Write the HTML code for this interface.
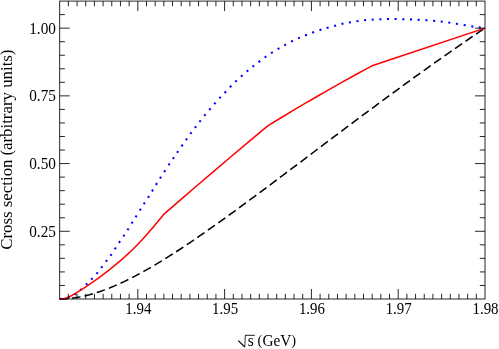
<!DOCTYPE html>
<html><head><meta charset="utf-8"><title>plot</title>
<style>
html,body{margin:0;padding:0;background:#fff;}
body{width:499px;height:349px;overflow:hidden;}
svg{display:block;will-change:transform;}
text{font-family:"Liberation Serif",serif;fill:#000;}
</style></head><body>
<svg width="499" height="349" viewBox="0 0 499 349">
<rect x="0" y="0" width="499" height="349" fill="#fff"/>
<path d="M59.50,299.00 L64.51,298.86 L69.51,298.47 L74.52,297.85 L79.52,297.00 L84.53,295.95 L89.54,294.69 L94.54,293.26 L99.55,291.65 L104.55,289.87 L109.56,287.95 L114.56,285.88 L119.57,283.67 L124.58,281.34 L129.58,278.90 L134.59,276.34 L139.59,273.68 L144.60,270.93 L149.61,268.08 L154.61,265.16 L159.62,262.16 L164.62,259.08 L169.63,255.94 L174.64,252.74 L179.64,249.49 L184.65,246.18 L189.65,242.82 L194.66,239.42 L199.66,235.98 L204.67,232.50 L209.68,228.99 L214.68,225.45 L219.69,221.88 L224.69,218.28 L229.70,214.66 L234.71,211.02 L239.71,207.36 L244.72,203.68 L249.72,199.99 L254.73,196.29 L259.74,192.57 L264.74,188.84 L269.75,185.10 L274.75,181.36 L279.76,177.61 L284.76,173.85 L289.77,170.09 L294.78,166.32 L299.78,162.56 L304.79,158.79 L309.79,155.02 L314.80,151.25 L319.81,147.48 L324.81,143.71 L329.82,139.94 L334.82,136.18 L339.83,132.42 L344.84,128.67 L349.84,124.92 L354.85,121.18 L359.85,117.44 L364.86,113.71 L369.86,109.99 L374.87,106.28 L379.88,102.57 L384.88,98.88 L389.89,95.20 L394.89,91.52 L399.90,87.86 L404.91,84.21 L409.91,80.58 L414.92,76.96 L419.92,73.35 L424.93,69.76 L429.94,66.18 L434.94,62.63 L439.95,59.08 L444.95,55.56 L449.96,52.06 L454.96,48.57 L459.97,45.11 L464.98,41.66 L469.98,38.24 L474.99,34.84 L479.99,31.46 L485.00,28.10" fill="none" stroke="#000" stroke-width="1.55" stroke-dasharray="8.6 4.18" stroke-dashoffset="0.31"/>
<g fill="#00f">
<rect x="60.18" y="297.88" width="2.05" height="2.05" transform="rotate(-10.9 61.20 298.90)"/>
<rect x="67.47" y="296.48" width="2.05" height="2.05" transform="rotate(-18.4 68.50 297.50)"/>
<rect x="74.27" y="293.18" width="2.05" height="2.05" transform="rotate(-32.5 75.30 294.20)"/>
<rect x="79.88" y="288.58" width="2.05" height="2.05" transform="rotate(-41.8 80.90 289.60)"/>
<rect x="85.57" y="283.08" width="2.05" height="2.05" transform="rotate(-44.2 86.60 284.10)"/>
<rect x="90.88" y="277.88" width="2.05" height="2.05" transform="rotate(-46.3 91.90 278.90)"/>
<rect x="96.07" y="272.08" width="2.05" height="2.05" transform="rotate(-50.0 97.10 273.10)"/>
<rect x="100.77" y="266.08" width="2.05" height="2.05" transform="rotate(-52.4 101.80 267.10)"/>
<rect x="105.47" y="259.88" width="2.05" height="2.05" transform="rotate(-52.7 106.50 260.90)"/>
<rect x="110.07" y="253.88" width="2.05" height="2.05" transform="rotate(-54.9 111.10 254.90)"/>
<rect x="114.27" y="247.38" width="2.05" height="2.05" transform="rotate(-56.9 115.30 248.40)"/>
<rect x="118.47" y="240.97" width="2.05" height="2.05" transform="rotate(-56.1 119.50 242.00)"/>
<rect x="122.88" y="234.57" width="2.05" height="2.05" transform="rotate(-56.2 123.90 235.60)"/>
<rect x="126.97" y="228.28" width="2.05" height="2.05" transform="rotate(-57.6 128.00 229.30)"/>
<rect x="131.07" y="221.67" width="2.05" height="2.05" transform="rotate(-58.1 132.10 222.70)"/>
<rect x="135.07" y="215.28" width="2.05" height="2.05" transform="rotate(-57.8 136.10 216.30)"/>
<rect x="139.28" y="208.67" width="2.05" height="2.05" transform="rotate(-57.8 140.30 209.70)"/>
<rect x="143.28" y="202.28" width="2.05" height="2.05" transform="rotate(-57.4 144.30 203.30)"/>
<rect x="147.47" y="195.88" width="2.05" height="2.05" transform="rotate(-57.4 148.50 196.90)"/>
<rect x="151.47" y="189.47" width="2.05" height="2.05" transform="rotate(-58.2 152.50 190.50)"/>
<rect x="155.47" y="182.97" width="2.05" height="2.05" transform="rotate(-58.2 156.50 184.00)"/>
<rect x="159.47" y="176.57" width="2.05" height="2.05" transform="rotate(-57.4 160.50 177.60)"/>
<rect x="163.67" y="170.17" width="2.05" height="2.05" transform="rotate(-56.9 164.70 171.20)"/>
<rect x="168.07" y="163.38" width="2.05" height="2.05" transform="rotate(-56.4 169.10 164.40)"/>
<rect x="172.38" y="157.07" width="2.05" height="2.05" transform="rotate(-55.8 173.40 158.10)"/>
<rect x="176.57" y="150.88" width="2.05" height="2.05" transform="rotate(-55.4 177.60 151.90)"/>
<rect x="181.07" y="144.47" width="2.05" height="2.05" transform="rotate(-54.8 182.10 145.50)"/>
<rect x="185.47" y="138.28" width="2.05" height="2.05" transform="rotate(-54.6 186.50 139.30)"/>
<rect x="189.88" y="132.07" width="2.05" height="2.05" transform="rotate(-53.6 190.90 133.10)"/>
<rect x="194.47" y="126.07" width="2.05" height="2.05" transform="rotate(-52.5 195.50 127.10)"/>
<rect x="199.07" y="120.07" width="2.05" height="2.05" transform="rotate(-51.9 200.10 121.10)"/>
<rect x="203.88" y="114.07" width="2.05" height="2.05" transform="rotate(-50.5 204.90 115.10)"/>
<rect x="208.88" y="108.17" width="2.05" height="2.05" transform="rotate(-49.5 209.90 109.20)"/>
<rect x="213.88" y="102.38" width="2.05" height="2.05" transform="rotate(-48.7 214.90 103.40)"/>
<rect x="219.07" y="96.57" width="2.05" height="2.05" transform="rotate(-47.1 220.10 97.60)"/>
<rect x="224.28" y="91.17" width="2.05" height="2.05" transform="rotate(-46.6 225.30 92.20)"/>
<rect x="229.57" y="85.47" width="2.05" height="2.05" transform="rotate(-46.1 230.60 86.50)"/>
<rect x="234.97" y="80.07" width="2.05" height="2.05" transform="rotate(-43.7 236.00 81.10)"/>
<rect x="240.67" y="74.88" width="2.05" height="2.05" transform="rotate(-41.6 241.70 75.90)"/>
<rect x="246.47" y="69.88" width="2.05" height="2.05" transform="rotate(-40.2 247.50 70.90)"/>
<rect x="252.28" y="65.07" width="2.05" height="2.05" transform="rotate(-38.5 253.30 66.10)"/>
<rect x="258.28" y="60.48" width="2.05" height="2.05" transform="rotate(-37.0 259.30 61.50)"/>
<rect x="264.48" y="55.88" width="2.05" height="2.05" transform="rotate(-34.9 265.50 56.90)"/>
<rect x="270.88" y="51.68" width="2.05" height="2.05" transform="rotate(-32.2 271.90 52.70)"/>
<rect x="277.48" y="47.68" width="2.05" height="2.05" transform="rotate(-30.9 278.50 48.70)"/>
<rect x="284.08" y="43.77" width="2.05" height="2.05" transform="rotate(-29.1 285.10 44.80)"/>
<rect x="290.98" y="40.18" width="2.05" height="2.05" transform="rotate(-26.1 292.00 41.20)"/>
<rect x="297.98" y="36.98" width="2.05" height="2.05" transform="rotate(-23.5 299.00 38.00)"/>
<rect x="304.98" y="34.08" width="2.05" height="2.05" transform="rotate(-21.7 306.00 35.10)"/>
<rect x="312.08" y="31.38" width="2.05" height="2.05" transform="rotate(-19.9 313.10 32.40)"/>
<rect x="319.38" y="28.88" width="2.05" height="2.05" transform="rotate(-18.0 320.40 29.90)"/>
<rect x="326.58" y="26.68" width="2.05" height="2.05" transform="rotate(-15.9 327.60 27.70)"/>
<rect x="334.08" y="24.68" width="2.05" height="2.05" transform="rotate(-14.7 335.10 25.70)"/>
<rect x="341.48" y="22.78" width="2.05" height="2.05" transform="rotate(-12.6 342.50 23.80)"/>
<rect x="348.88" y="21.38" width="2.05" height="2.05" transform="rotate(-9.8 349.90 22.40)"/>
<rect x="356.48" y="20.18" width="2.05" height="2.05" transform="rotate(-8.2 357.50 21.20)"/>
<rect x="364.08" y="19.18" width="2.05" height="2.05" transform="rotate(-6.0 365.10 20.20)"/>
<rect x="371.68" y="18.58" width="2.05" height="2.05" transform="rotate(-3.7 372.70 19.60)"/>
<rect x="379.38" y="18.18" width="2.05" height="2.05" transform="rotate(-2.2 380.40 19.20)"/>
<rect x="386.98" y="17.98" width="2.05" height="2.05" transform="rotate(-0.8 388.00 19.00)"/>
<rect x="394.58" y="17.98" width="2.05" height="2.05" transform="rotate(0.7 395.60 19.00)"/>
<rect x="402.28" y="18.18" width="2.05" height="2.05" transform="rotate(1.5 403.30 19.20)"/>
<rect x="409.98" y="18.38" width="2.05" height="2.05" transform="rotate(2.2 411.00 19.40)"/>
<rect x="417.58" y="18.78" width="2.05" height="2.05" transform="rotate(3.0 418.60 19.80)"/>
<rect x="425.48" y="19.18" width="2.05" height="2.05" transform="rotate(3.7 426.50 20.20)"/>
<rect x="433.08" y="19.78" width="2.05" height="2.05" transform="rotate(5.3 434.10 20.80)"/>
<rect x="440.68" y="20.58" width="2.05" height="2.05" transform="rotate(6.8 441.70 21.60)"/>
<rect x="448.28" y="21.58" width="2.05" height="2.05" transform="rotate(8.2 449.30 22.60)"/>
<rect x="455.88" y="22.78" width="2.05" height="2.05" transform="rotate(9.2 456.90 23.80)"/>
<rect x="463.68" y="24.08" width="2.05" height="2.05" transform="rotate(9.9 464.70 25.10)"/>
<rect x="471.28" y="25.48" width="2.05" height="2.05" transform="rotate(9.0 472.30 26.50)"/>
<rect x="478.78" y="26.48" width="2.05" height="2.05" transform="rotate(7.6 479.80 27.50)"/>
</g>
<path d="M59.50,299.00 L62.00,298.85 L64.50,298.45 L67.00,297.75 L69.50,296.75 L72.00,295.45 L74.50,293.95 L77.52,292.15 L81.12,289.93 L84.72,287.64 L88.33,285.24 L91.93,282.74 L95.53,280.18 L99.14,277.55 L102.74,274.86 L106.34,272.11 L109.95,269.30 L113.55,266.41 L117.16,263.44 L120.76,260.37 L124.36,257.20 L127.97,253.91 L131.57,250.50 L135.17,246.95 L138.78,243.26 L142.38,239.42 L145.98,235.45 L149.59,231.36 L153.19,227.15 L156.79,222.85 L160.40,218.48 L164.00,214.10 L181.00,199.40 L198.00,184.76 L214.00,171.10 L230.00,157.50 L251.50,139.40 L268.10,125.60 L281.00,117.75 L294.00,109.95 L305.50,103.20 L317.00,96.50 L328.50,89.90 L340.00,83.45 L356.00,74.50 L364.00,70.20 L372.10,65.80 L390.00,59.70 L485.00,28.10" stroke="#f00" stroke-width="1.5" fill="none" stroke-linejoin="round"/>
<g stroke="#000" stroke-width="0.85" fill="none">
<rect x="59.7" y="1.08" width="425.3" height="297.92"/>
<path d="M68.38,299.0 v-5.2 M68.38,1.08 v5.2 M77.06,299.0 v-5.2 M77.06,1.08 v5.2 M85.74,299.0 v-5.2 M85.74,1.08 v5.2 M94.42,299.0 v-5.2 M94.42,1.08 v5.2 M103.10,299.0 v-5.2 M103.10,1.08 v5.2 M111.78,299.0 v-5.2 M111.78,1.08 v5.2 M120.46,299.0 v-5.2 M120.46,1.08 v5.2 M129.14,299.0 v-5.2 M129.14,1.08 v5.2 M137.82,299.0 v-10.0 M137.82,1.08 v10.0 M146.50,299.0 v-5.2 M146.50,1.08 v5.2 M155.18,299.0 v-5.2 M155.18,1.08 v5.2 M163.86,299.0 v-5.2 M163.86,1.08 v5.2 M172.53,299.0 v-5.2 M172.53,1.08 v5.2 M181.21,299.0 v-5.2 M181.21,1.08 v5.2 M189.89,299.0 v-5.2 M189.89,1.08 v5.2 M198.57,299.0 v-5.2 M198.57,1.08 v5.2 M207.25,299.0 v-5.2 M207.25,1.08 v5.2 M215.93,299.0 v-5.2 M215.93,1.08 v5.2 M224.61,299.0 v-10.0 M224.61,1.08 v10.0 M233.29,299.0 v-5.2 M233.29,1.08 v5.2 M241.97,299.0 v-5.2 M241.97,1.08 v5.2 M250.65,299.0 v-5.2 M250.65,1.08 v5.2 M259.33,299.0 v-5.2 M259.33,1.08 v5.2 M268.01,299.0 v-5.2 M268.01,1.08 v5.2 M276.69,299.0 v-5.2 M276.69,1.08 v5.2 M285.37,299.0 v-5.2 M285.37,1.08 v5.2 M294.05,299.0 v-5.2 M294.05,1.08 v5.2 M302.73,299.0 v-5.2 M302.73,1.08 v5.2 M311.41,299.0 v-10.0 M311.41,1.08 v10.0 M320.09,299.0 v-5.2 M320.09,1.08 v5.2 M328.77,299.0 v-5.2 M328.77,1.08 v5.2 M337.45,299.0 v-5.2 M337.45,1.08 v5.2 M346.13,299.0 v-5.2 M346.13,1.08 v5.2 M354.81,299.0 v-5.2 M354.81,1.08 v5.2 M363.49,299.0 v-5.2 M363.49,1.08 v5.2 M372.17,299.0 v-5.2 M372.17,1.08 v5.2 M380.84,299.0 v-5.2 M380.84,1.08 v5.2 M389.52,299.0 v-5.2 M389.52,1.08 v5.2 M398.20,299.0 v-10.0 M398.20,1.08 v10.0 M406.88,299.0 v-5.2 M406.88,1.08 v5.2 M415.56,299.0 v-5.2 M415.56,1.08 v5.2 M424.24,299.0 v-5.2 M424.24,1.08 v5.2 M432.92,299.0 v-5.2 M432.92,1.08 v5.2 M441.60,299.0 v-5.2 M441.60,1.08 v5.2 M450.28,299.0 v-5.2 M450.28,1.08 v5.2 M458.96,299.0 v-5.2 M458.96,1.08 v5.2 M467.64,299.0 v-5.2 M467.64,1.08 v5.2 M476.32,299.0 v-5.2 M476.32,1.08 v5.2 M59.7,285.46 h5.2 M485.0,285.46 h-5.2 M59.7,271.92 h5.2 M485.0,271.92 h-5.2 M59.7,258.37 h5.2 M485.0,258.37 h-5.2 M59.7,244.83 h5.2 M485.0,244.83 h-5.2 M59.7,231.29 h10.0 M485.0,231.29 h-10.0 M59.7,217.75 h5.2 M485.0,217.75 h-5.2 M59.7,204.21 h5.2 M485.0,204.21 h-5.2 M59.7,190.67 h5.2 M485.0,190.67 h-5.2 M59.7,177.12 h5.2 M485.0,177.12 h-5.2 M59.7,163.58 h10.0 M485.0,163.58 h-10.0 M59.7,150.04 h5.2 M485.0,150.04 h-5.2 M59.7,136.50 h5.2 M485.0,136.50 h-5.2 M59.7,122.96 h5.2 M485.0,122.96 h-5.2 M59.7,109.41 h5.2 M485.0,109.41 h-5.2 M59.7,95.87 h10.0 M485.0,95.87 h-10.0 M59.7,82.33 h5.2 M485.0,82.33 h-5.2 M59.7,68.79 h5.2 M485.0,68.79 h-5.2 M59.7,55.25 h5.2 M485.0,55.25 h-5.2 M59.7,41.71 h5.2 M485.0,41.71 h-5.2 M59.7,28.16 h10.0 M485.0,28.16 h-10.0 M59.7,14.62 h5.2 M485.0,14.62 h-5.2"/>
</g>
<g font-size="14.9px">
<text transform="translate(138.32 314.3) scale(1 1.11)" text-anchor="middle">1.94</text>
<text transform="translate(225.11 314.3) scale(1 1.11)" text-anchor="middle">1.95</text>
<text transform="translate(311.91 314.3) scale(1 1.11)" text-anchor="middle">1.96</text>
<text transform="translate(398.70 314.3) scale(1 1.11)" text-anchor="middle">1.97</text>
<text transform="translate(485.50 314.3) scale(1 1.11)" text-anchor="middle">1.98</text>
<text transform="translate(55.9 236.89) scale(1 1.0845)" text-anchor="end" font-size="15.25px">0.25</text>
<text transform="translate(55.9 169.18) scale(1 1.0845)" text-anchor="end" font-size="15.25px">0.50</text>
<text transform="translate(55.9 101.47) scale(1 1.0845)" text-anchor="end" font-size="15.25px">0.75</text>
<text transform="translate(55.9 33.76) scale(1 1.0845)" text-anchor="end" font-size="15.25px">1.00</text>
</g>
<g font-size="15.3px">
<text transform="translate(247.8 345.7) scale(1 1.03)">s <tspan font-size="14.4px" dy="-0.35">(</tspan><tspan dy="0.35">GeV</tspan><tspan font-size="14.4px" dy="-0.35">)</tspan></text>
<path d="M238.3,340.6 L244.6,346.9" fill="none" stroke="#000" stroke-width="1.3"/>
<path d="M244.75,347.3 L245.35,335.3" fill="none" stroke="#000" stroke-width="0.8"/>
<path d="M245.0,335.3 H254.8" fill="none" stroke="#000" stroke-width="0.9"/>
<text transform="translate(12.3 249.8) rotate(-90) scale(1 1.05)" font-size="16.85px">Cross section <tspan font-size="15.9px" dy="-0.4">(</tspan><tspan dy="0.4">arbitrary units</tspan><tspan font-size="15.9px" dy="-0.4">)</tspan></text>
</g>
</svg></body></html>
